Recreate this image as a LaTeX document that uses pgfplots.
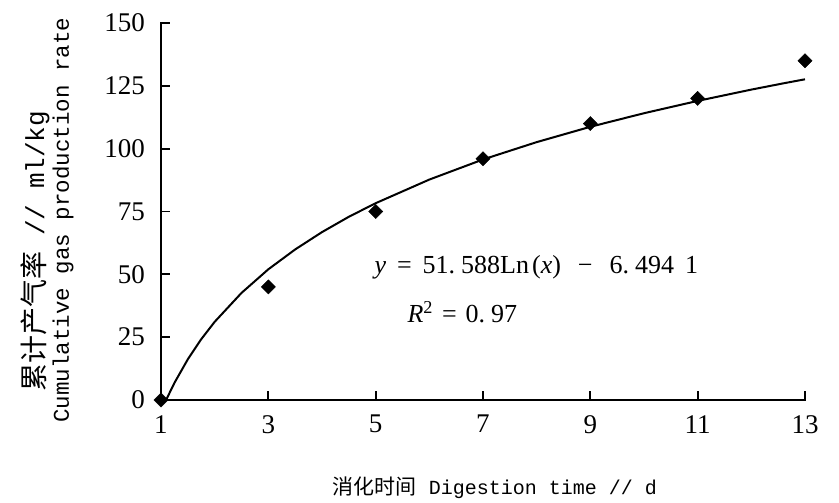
\documentclass[border=0pt]{standalone}
\usepackage{fontspec}
\setmainfont{Liberation Serif}
\setmonofont{Liberation Mono}
\newfontfamily\cjk{Noto Sans CJK SC}
\usepackage{pgfplots}
\pgfplotsset{compat=1.18}

\begin{document}
\begin{tikzpicture}
\path[use as bounding box] (-161pt,-103pt) rectangle (678pt,400pt);
\begin{axis}[at={(0pt,0pt)},anchor=south west,scale only axis,
  width=644pt,height=377pt,xmin=1,xmax=13,ymin=0,ymax=150,
  axis line style={draw=none},xtick pos=bottom,ytick pos=left,
  xtick={1,3,5,7,9,11,13},ytick={0,25,50,75,100,125,150},
  tick align=inside,major tick length=9pt,tick style={line width=1.8pt,black},
  /pgf/number format/assume math mode=true,
  tick label style={font=\fontsize{27}{30}\selectfont},
  yticklabel style={anchor=east,inner sep=0pt,xshift=-16pt},
  xticklabel style={anchor=north,inner sep=0pt,yshift=-15pt},
  clip=false]
% left and bottom axis lines only
\draw[line width=2pt,line cap=rect] (rel axis cs:0,1) -- (rel axis cs:0,0) -- (rel axis cs:1,0);
% fitted curve
\addplot[line width=2pt,black] coordinates {(1.095,0)(1.25,6.8)(1.5,16.2)(1.75,24.2)(2,31.1)(2.5,42.6)
  (3,52.0)(3.5,59.9)(4,66.8)(4.5,72.9)(5,78.3)(6,87.7)(7,95.7)(8,102.6)(9,108.7)(10,114.1)
  (11,119.0)(12,123.5)(12.6,126.0)(13,127.6)};
% measured values
\addplot[only marks,mark=square*,mark size=5pt,mark options={rotate=45,fill=black,draw=black}]
  coordinates {(1,0)(3,45)(5,75)(7,96)(9,110)(11,120)(13,135)};
\end{axis}
\node[anchor=west,font=\fontsize{26}{30}\selectfont] at (210pt,133pt)
  {\textit{y}\hspace{11pt}=\hspace{11pt}51.\hspace{6pt}588Ln\hspace{3pt}(\textit{x})\hspace{17pt}−\hspace{17pt}6.\hspace{6pt}494\hspace{11pt}1};
\node[anchor=west,font=\fontsize{26}{30}\selectfont] at (243pt,88pt)
  {\textit{R}\textsuperscript{2}\hspace{9pt}=\hspace{9pt}0.\hspace{6pt}97};
\node[rotate=90] at (-126pt,149pt) {{\cjk\fontsize{28}{30}\selectfont 累计产气率}{\ttfamily\fontsize{26}{28}\selectfont\ // ml/kg}};
\node[rotate=90] at (-98pt,180pt) {\ttfamily\fontsize{22.5}{26}\selectfont Cumulative gas production rate};
\node at (334pt,-88pt) {{\cjk\fontsize{21}{24}\selectfont 消化时间}{\ttfamily\fontsize{20}{22}\selectfont\ Digestion time // d}};
\end{tikzpicture}
\end{document}
